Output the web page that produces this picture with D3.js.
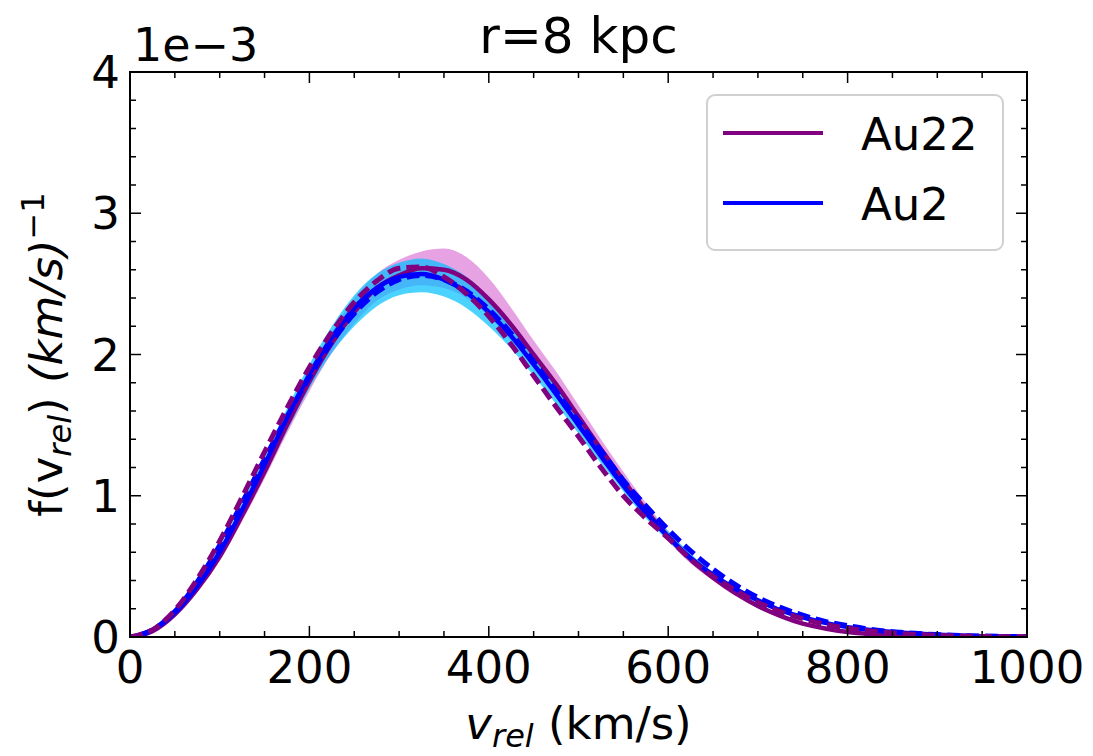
<!DOCTYPE html>
<html>
<head>
<meta charset="utf-8">
<script src="https://cdn.jsdelivr.net/npm/d3@7"></script>
<style>
  body { margin: 0; background: #fff; }
  svg text { font-family: "DejaVu Sans", sans-serif; fill: #000; }
</style>
</head>
<body>
<div id="chart"></div>
<script>
// velocity grid (km/s)
var vGrid = [0, 25, 50, 75, 100, 125, 150, 175, 200, 225, 250, 275, 300, 325, 350, 375, 400, 425, 450, 475, 500,
  525, 550, 575, 600, 625, 650, 675, 700, 725, 750, 775, 800, 825, 850, 875, 900, 925, 950, 975, 1000];

// f(v_rel) in units of 1e-3 (km/s)^-1
var au22 = [0, 0.04, 0.16, 0.34, 0.57, 0.86, 1.17, 1.5, 1.81, 2.08, 2.3, 2.47, 2.56, 2.61, 2.6, 2.53, 2.39, 2.21, 2.0, 1.79, 1.56,
  1.33, 1.11, 0.9, 0.71, 0.55, 0.42, 0.31, 0.22, 0.15, 0.095, 0.06, 0.035, 0.02, 0.011, 0.006, 0.003, 0.0015, 0.0007, 0.0003, 0];
var au22Lo = [0, 0.035, 0.15, 0.32, 0.54, 0.82, 1.12, 1.44, 1.74, 2.01, 2.22, 2.38, 2.46, 2.49, 2.47, 2.4, 2.27, 2.1, 1.91, 1.71, 1.5,
  1.28, 1.06, 0.86, 0.68, 0.52, 0.4, 0.29, 0.205, 0.14, 0.088, 0.055, 0.032, 0.018, 0.01, 0.005, 0.0025, 0.001, 0.0005, 0.0002, 0];
var au22Hi = [0, 0.045, 0.17, 0.36, 0.6, 0.9, 1.22, 1.56, 1.88, 2.16, 2.4, 2.57, 2.67, 2.73, 2.75, 2.69, 2.54, 2.33, 2.1, 1.88, 1.64,
  1.4, 1.17, 0.95, 0.75, 0.58, 0.44, 0.33, 0.235, 0.16, 0.102, 0.065, 0.038, 0.022, 0.012, 0.0065, 0.0035, 0.002, 0.001, 0.0005, 0];

var au2 = [0, 0.05, 0.17, 0.36, 0.6, 0.9, 1.22, 1.55, 1.86, 2.12, 2.33, 2.47, 2.55, 2.57, 2.53, 2.44, 2.3, 2.13, 1.93, 1.72, 1.5,
  1.28, 1.07, 0.88, 0.71, 0.56, 0.44, 0.34, 0.26, 0.19, 0.14, 0.1, 0.07, 0.05, 0.035, 0.024, 0.016, 0.01, 0.006, 0.003, 0.001];
var au2Lo = [0, 0.04, 0.15, 0.33, 0.56, 0.84, 1.14, 1.46, 1.76, 2.01, 2.2, 2.34, 2.42, 2.44, 2.41, 2.33, 2.2, 2.04, 1.85, 1.65, 1.44,
  1.23, 1.03, 0.84, 0.68, 0.53, 0.42, 0.32, 0.245, 0.18, 0.13, 0.095, 0.065, 0.047, 0.033, 0.023, 0.015, 0.009, 0.005, 0.0025, 0.001];
var au2Hi = [0, 0.06, 0.19, 0.39, 0.64, 0.95, 1.28, 1.62, 1.93, 2.2, 2.42, 2.57, 2.65, 2.68, 2.64, 2.55, 2.4, 2.22, 2.01, 1.79, 1.56,
  1.34, 1.12, 0.92, 0.75, 0.59, 0.46, 0.36, 0.27, 0.2, 0.15, 0.105, 0.075, 0.053, 0.037, 0.025, 0.017, 0.011, 0.007, 0.003, 0.001];

// dashed fits
var au22Fit = [0, 0.05, 0.19, 0.41, 0.68, 0.99, 1.31, 1.62, 1.91, 2.16, 2.37, 2.52, 2.61, 2.62, 2.55, 2.43, 2.27, 2.07, 1.85, 1.63, 1.42,
  1.2, 1.0, 0.84, 0.7, 0.55, 0.43, 0.33, 0.245, 0.18, 0.13, 0.09, 0.062, 0.042, 0.028, 0.018, 0.011, 0.007, 0.004, 0.002, 0.001];
var au2Fit = [0, 0.05, 0.18, 0.39, 0.65, 0.95, 1.26, 1.56, 1.84, 2.09, 2.29, 2.44, 2.53, 2.56, 2.53, 2.45, 2.32, 2.15, 1.95, 1.74, 1.53,
  1.32, 1.11, 0.93, 0.76, 0.61, 0.48, 0.37, 0.28, 0.21, 0.155, 0.11, 0.08, 0.055, 0.038, 0.026, 0.017, 0.011, 0.007, 0.004, 0.002];

var xTicks = [0, 200, 400, 600, 800, 1000];
var yTicks = [0, 1, 2, 3, 4];
var seriesNames = ["Au22", "Au2"];

var W = 1093, H = 756;
var margin = { top: 72, right: 66, bottom: 119, left: 130 };
var width = W - margin.left - margin.right;
var height = H - margin.top - margin.bottom;

var svg = d3.select("#chart").append("svg")
  .attr("width", W)
  .attr("height", H);

var g = svg.append("g")
  .attr("transform", `translate(${margin.left},${margin.top})`);

var x = d3.scaleLinear().domain([0, 1000]).range([0, width]);
var y = d3.scaleLinear().domain([0, 4]).range([height, 0]);

g.append("clipPath").attr("id", "clip")
  .append("rect").attr("width", width).attr("height", height);

var plot = g.append("g").attr("clip-path", "url(#clip)");

function band(lo, hi) {
  return d3.area()
    .x(function(d, i) { return x(vGrid[i]); })
    .y0(function(d, i) { return y(lo[i]); })
    .y1(function(d, i) { return y(hi[i]); })
    .curve(d3.curveMonotoneX)(vGrid);
}
function line(vals) {
  return d3.line()
    .x(function(d, i) { return x(vGrid[i]); })
    .y(function(d, i) { return y(vals[i]); })
    .curve(d3.curveMonotoneX)(vGrid);
}

// bands
plot.append("path").attr("d", band(au22Lo, au22Hi))
  .style("fill", "orchid").style("fill-opacity", 0.65);
plot.append("path").attr("d", band(au2Lo, au2Hi))
  .style("fill", "deepskyblue").style("fill-opacity", 0.7);

// solid lines
plot.append("path").attr("d", line(au22))
  .style("fill", "none").style("stroke", "purple").style("stroke-width", 4.5);
plot.append("path").attr("d", line(au2))
  .style("fill", "none").style("stroke", "blue").style("stroke-width", 4.5);

// dashed fits
plot.append("path").attr("d", line(au2Fit))
  .style("fill", "none").style("stroke", "blue").style("stroke-width", 5)
  .style("stroke-dasharray", "13,6").style("stroke-dashoffset", 9);
plot.append("path").attr("d", line(au22Fit))
  .style("fill", "none").style("stroke", "purple").style("stroke-width", 5)
  .style("stroke-dasharray", "13,6");

// ticks (inward, all sides)
var xMinor = d3.range(0, 1001, 50);
var yMinor = d3.range(0, 4.001, 0.2);
var tickG = g.append("g").style("stroke", "#000").style("stroke-width", 1.5);
xMinor.forEach(function(v) {
  var len = (v % 200 === 0) ? 11 : 6;
  tickG.append("line").attr("x1", x(v)).attr("x2", x(v)).attr("y1", height).attr("y2", height - len);
  tickG.append("line").attr("x1", x(v)).attr("x2", x(v)).attr("y1", 0).attr("y2", len);
});
yMinor.forEach(function(v) {
  var major = Math.abs(v - Math.round(v)) < 1e-6;
  var len = major ? 11 : 6;
  tickG.append("line").attr("x1", 0).attr("x2", len).attr("y1", y(v)).attr("y2", y(v));
  tickG.append("line").attr("x1", width).attr("x2", width - len).attr("y1", y(v)).attr("y2", y(v));
});

// frame
g.append("rect").attr("width", width).attr("height", height)
  .style("fill", "none").style("stroke", "#000").style("stroke-width", 2);

// tick labels
g.selectAll("text.xt").data(xTicks).enter().append("text")
  .attr("class", "xt")
  .attr("x", function(d) { return x(d); })
  .attr("y", height + 46)
  .attr("text-anchor", "middle")
  .style("font-size", "45px")
  .text(function(d) { return d; });

g.selectAll("text.yt").data(yTicks).enter().append("text")
  .attr("class", "yt")
  .attr("x", -10)
  .attr("y", function(d) { return y(d) + 16; })
  .attr("text-anchor", "end")
  .style("font-size", "45px")
  .text(function(d) { return d; });

// offset text
svg.append("text")
  .attr("x", 133).attr("y", 61)
  .style("font-size", "46px")
  .text("1e\u22123");

// title
svg.append("text")
  .attr("x", margin.left + width / 2).attr("y", 53)
  .attr("text-anchor", "middle")
  .style("font-size", "50px")
  .text("r=8 kpc");

// x label (bottom edge is tight, as in the original)
var xl = svg.append("text")
  .attr("x", margin.left + width / 2).attr("y", 739)
  .attr("text-anchor", "middle")
  .style("font-size", "45px");
xl.append("tspan").style("font-style", "italic").text("v");
xl.append("tspan").style("font-style", "italic").style("font-size", "32px").attr("dy", 8).text("rel");
xl.append("tspan").attr("dy", -8).text(" (km/s)");

// y label
var yl = svg.append("text")
  .attr("transform", "translate(62," + (margin.top + height / 2) + ") rotate(-90)")
  .attr("text-anchor", "middle")
  .style("font-size", "45px");
yl.append("tspan").text("f(v");
yl.append("tspan").style("font-style", "italic").style("font-size", "32px").attr("dy", 9).text("rel");
yl.append("tspan").attr("dy", -9).text(") ");
yl.append("tspan").style("font-style", "italic").text("(km/s)");
yl.append("tspan").style("font-size", "32px").attr("dy", -18).text("\u22121");

// legend
var legend = svg.append("g");
legend.append("rect")
  .attr("x", 707).attr("y", 95).attr("width", 296).attr("height", 155).attr("rx", 8)
  .style("fill", "#fff").style("fill-opacity", 0.8)
  .style("stroke", "#d0d0d0").style("stroke-width", 2);
var legColors = ["purple", "blue"];
seriesNames.forEach(function(name, i) {
  var ly = 133 + i * 70;
  legend.append("line")
    .attr("x1", 723).attr("x2", 823).attr("y1", ly).attr("y2", ly)
    .style("stroke", legColors[i]).style("stroke-width", 4);
  legend.append("text")
    .attr("x", 861).attr("y", ly + 17)
    .style("font-size", "45px")
    .text(name);
});
</script>
</body>
</html>
